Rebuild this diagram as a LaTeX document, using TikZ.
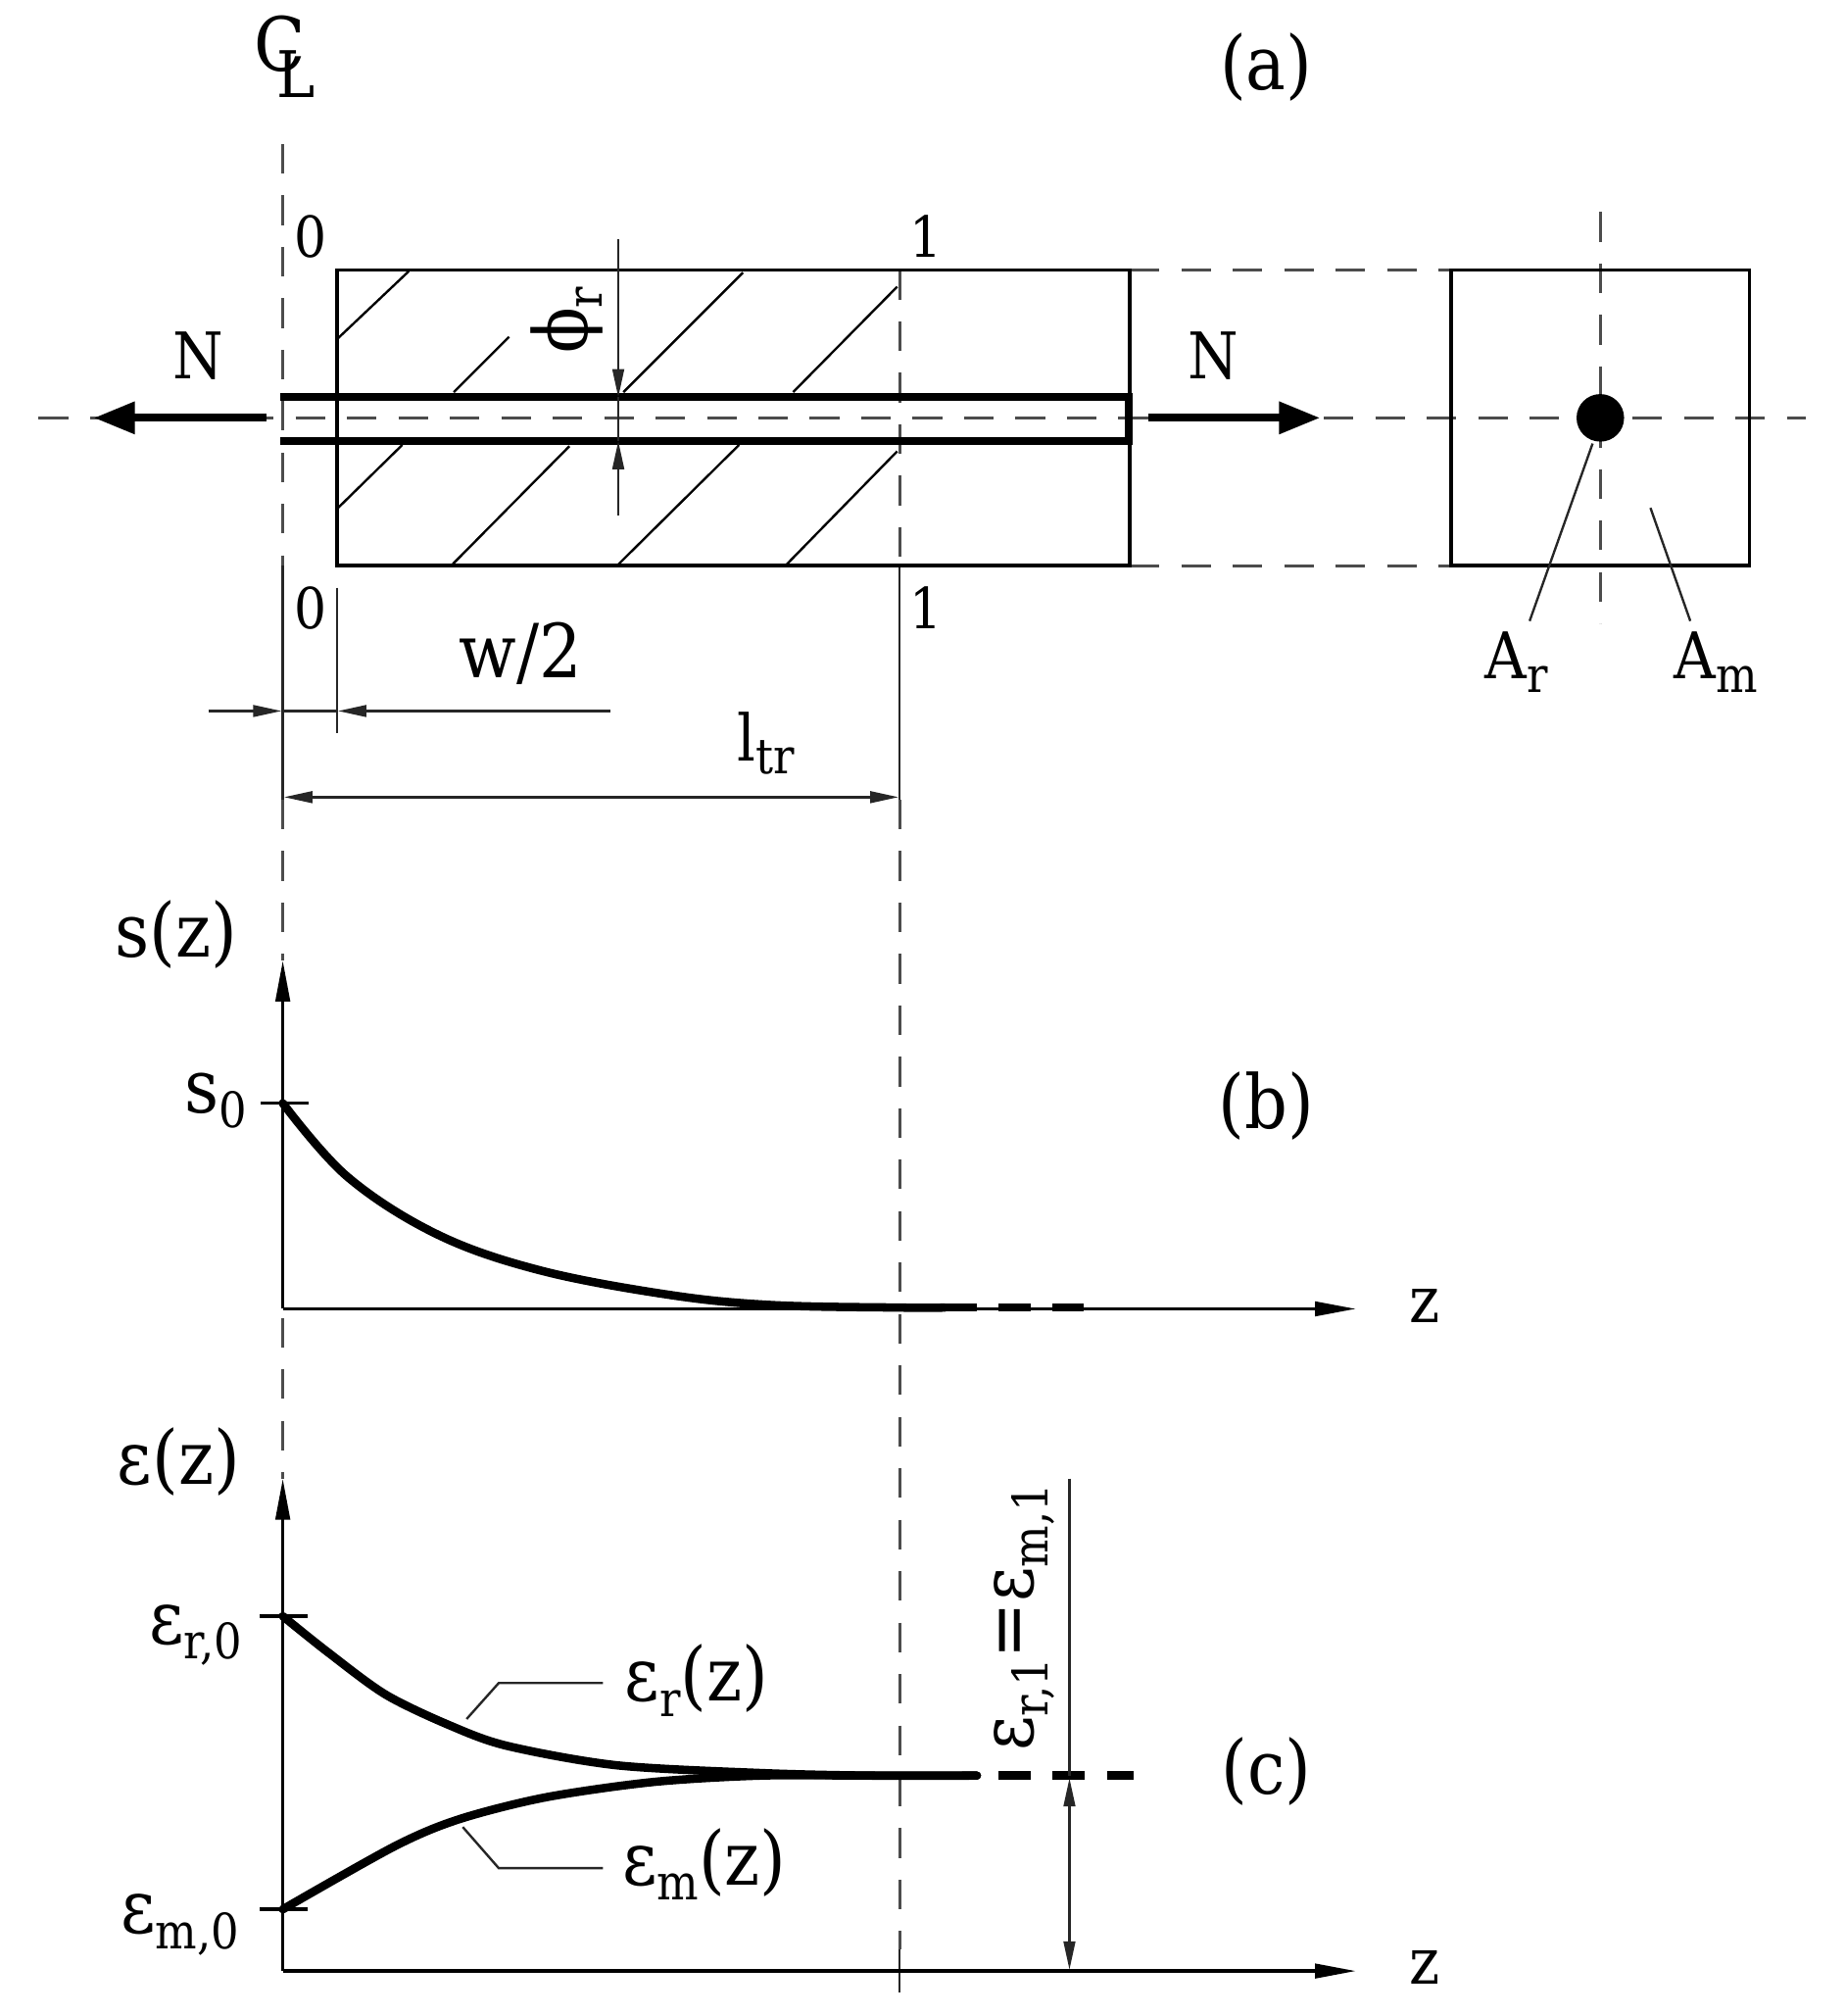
\documentclass[tikz,border=0pt]{standalone}
\usepackage{fontspec}
\setmainfont[FakeStretch=0.9]{DejaVu Serif}
\usetikzlibrary{arrows.meta}
\newcommand{\sbs}[1]{\raisebox{-0.2em}{\fontsize{38}{40}\selectfont #1}}
\tikzset{
  lbl/.style={inner sep=0pt,font=\fontsize{50}{54}\selectfont},
  big lbl/.style={inner sep=0pt,font=\fontsize{58}{62}\selectfont},
  small lbl/.style={inner sep=0pt,font=\fontsize{44}{48}\selectfont},
  outline/.style={line width=2.8pt,black},
  thin line/.style={line width=1.8pt,black!85},
  centre/.style={line width=2pt,black!70,dash pattern=on 23pt off 17pt},
  hatch/.style={line width=1.8pt,black},
  rod/.style={line width=6pt,black},
  curve/.style={line width=6.5pt,black,line cap=round},
  tail/.style={line width=6.5pt,black,dash pattern=on 25pt off 17pt},
  dim/.style={thin line,{Triangle[length=22pt,width=9pt]}-{Triangle[length=22pt,width=9pt]}},
  dimend/.style={thin line,-{Triangle[length=22pt,width=9pt]}},
  axis/.style={line width=2.8pt,black,-{Triangle[length=32pt,width=11pt]}},
  force/.style={line width=6pt,black,-{Triangle[length=32pt,width=24pt]}},
}
\begin{document}
\begin{tikzpicture}[x=1pt,y=-1pt]
\useasboundingbox (0,0) rectangle (1435,1568);
\fill[white] (0,0) rectangle (1435,1568);

% key points
\coordinate (rectNW) at (262,210);
\coordinate (rectSE) at (879,440);
\coordinate (secNW) at (1129,210);
\coordinate (secSE) at (1361,440);
\coordinate (o1) at (220,858);
\coordinate (o2) at (220,1018);
\coordinate (o3) at (220,1533);

% centre lines
\draw[centre] (220,112) -- (220,440);
\draw[thin line] (220,440) -- (220,622);
\draw[centre] (220,622) -- (220,747);
\draw[centre] (220,1025) -- (220,1150);
\draw[centre] (700,210) -- (700,440);
\draw[thin line] (700,440) -- (700,622);
\draw[centre] (700,622) -- (700,1516);
\draw[thin line] (700,1516) -- (700,1550);
\draw[centre] (30,325) -- (1405,325);
\draw[centre] (1245,165) -- (1245,485);
\draw[centre] (879,210) -- (1129,210);
\draw[centre] (879,440) -- (1129,440);

% bar
\draw[outline] (rectNW) rectangle (rectSE);
\draw[hatch] (262,264) -- (318,211);
\draw[hatch] (353,305) -- (396,262);
\draw[hatch] (485,305) -- (578,212);
\draw[hatch] (617,305) -- (698,223);
\draw[hatch] (262,396) -- (313,346);
\draw[hatch] (351,440) -- (443,347);
\draw[hatch] (480,440) -- (575,346);
\draw[hatch] (611,440) -- (698,351);
\draw[rod] (218,309) -- (878,309) -- (878,343) -- (218,343);

% cross section
\draw[outline] (secNW) rectangle (secSE);
\node[circle,fill=black,minimum size=37pt,inner sep=0pt] (rodsec) at (1245,325) {};

% forces
\coordinate (fL0) at (207,325); \coordinate (fL1) at (73,325);
\coordinate (fR0) at (893,325); \coordinate (fR1) at (1027,325);
\draw[force] (fL0) -- (fL1);
\draw[force] (fR0) -- (fR1);

% phi dimension
\draw[dimend] (481,186) -- (481,309);
\draw[dimend] (481,401) -- (481,343);
\draw[thin line] (481,309) -- (481,343);

% w/2 and l_tr dimensions
\draw[thin line] (262,457) -- (262,570);
\draw[dimend] (162,553) -- (219,553);
\draw[dimend] (475,553) -- (263,553);
\draw[thin line] (219,553) -- (263,553);
\draw[dim] (221,620) -- (699,620);

% leaders
\node[lbl] (Ar) at (1180,515) {A\sbs{r}};
\node[lbl] (Am) at (1335,515) {A\sbs{m}};
\draw[thin line] (1239,345) -- (1190,483);
\draw[thin line] (1284,395) -- (1315,483);

% graph b
\draw[axis] (o2) -- (220,747);
\draw[axis] (o2) -- (1055,1018);
\draw[outline] (203,858) -- (240,858);
\draw[curve] plot[smooth,tension=0.6] coordinates {(o1) (270,915) (340,960) (420,988) (520,1007) (600,1015) (700,1017) (735,1017)};
\draw[tail] (735,1017) -- (843,1017);

% graph c
\draw[axis] (o3) -- (220,1150);
\draw[axis] (o3) -- (1055,1533);
\draw[outline] (202,1257) -- (239,1257);
\draw[outline] (202,1485) -- (239,1485);
\draw[curve] plot[smooth,tension=0.5] coordinates {(220,1257) (255,1285) (300,1318) (350,1342) (395,1358) (480,1373) (592,1379) (676,1381) (760,1381)};
\draw[curve] plot[smooth,tension=0.5] coordinates {(220,1485) (307,1436) (357,1415) (424,1398) (508,1386) (592,1381) (676,1381) (760,1381)};
\draw[tail] (777,1381) -- (882,1381);
\draw[thin line] (363,1337) -- (388,1309) -- (469,1309);
\draw[thin line] (360,1421) -- (388,1453) -- (469,1453);
\draw[thin line] (832,1150) -- (832,1381);
\draw[dim] (832,1383) -- (832,1532);

% labels
\node[big lbl] (cC) at (218,34) {C};
\node[lbl] (cL) at (230,58) {L};
\node[big lbl] (lA) at (985,52) {(a)};
\node[big lbl] (lB) at (985,860) {(b)};
\node[big lbl] (lC) at (985,1378) {(c)};
\node[small lbl] (z0t) at (242,184) {0};
\node[small lbl] (z1t) at (720,184) {1};
\node[small lbl] (z0b) at (242,473) {0};
\node[small lbl] (z1b) at (720,473) {1};
\node[lbl] (NL) at (154,277) {N};
\node[lbl] (NR) at (944,277) {N};
\node[big lbl] (wh) at (405,508) {w/2};
\node[lbl] (ltr) at (596,578) {l\sbs{tr}};
\node[big lbl,rotate=90] (phir) at (441,249) {ϕ\sbs{r}};
\node[big lbl] (sz) at (137,727) {s(z)};
\node[big lbl] (s0) at (168,856) {s\sbs{0}};
\node[lbl] (zb) at (1108,1016) {z};
\node[lbl] (zc) at (1108,1530) {z};
\node[big lbl] (ez) at (139,1137) {ε(z)};
\node[big lbl] (er0) at (152,1272) {ε\sbs{r,0}};
\node[big lbl] (em0) at (140,1497) {ε\sbs{m,0}};
\node[big lbl] (erz) at (542,1307) {ε\sbs{r}(z)};
\node[big lbl] (emz) at (548,1450) {ε\sbs{m}(z)};
\node[big lbl,rotate=90] (eq) at (797,1258) {ε\sbs{r,1}=ε\sbs{m,1}};
\end{tikzpicture}
\end{document}
